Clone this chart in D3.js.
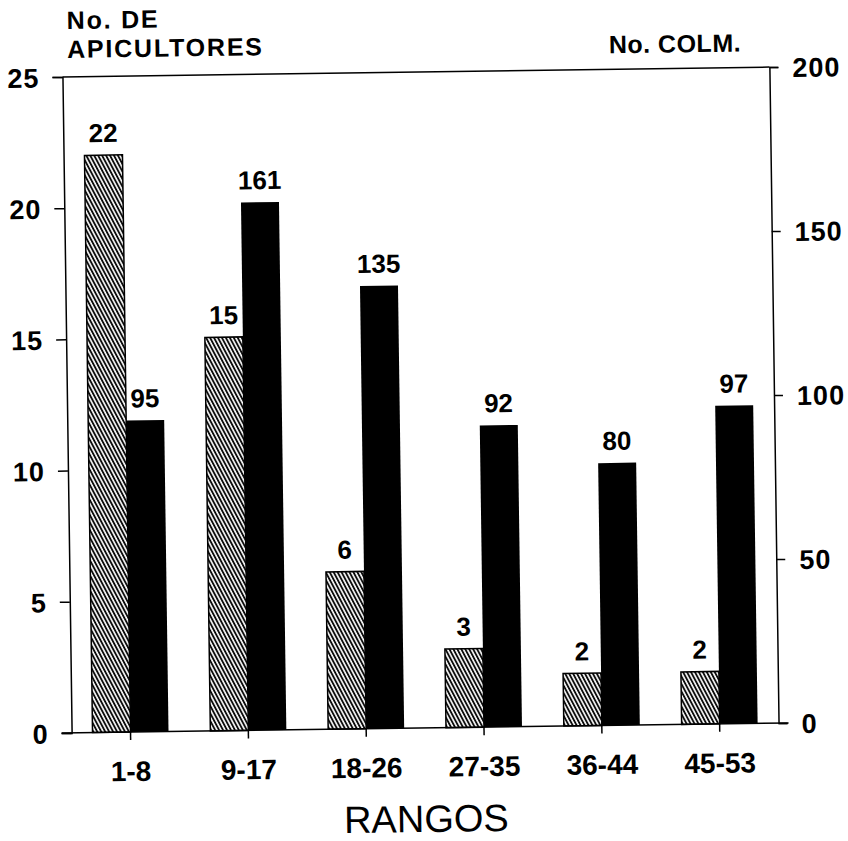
<!DOCTYPE html>
<html><head><meta charset="utf-8">
<script src="https://cdn.jsdelivr.net/npm/d3@7"></script>
<style>
html,body{margin:0;padding:0;background:#fff;}
svg{display:block;}
text{font-family:"Liberation Sans",Arial,Helvetica,sans-serif;fill:#000;}
</style></head>
<body>
<script>
const categories = ["1-8","9-17","18-26","27-35","36-44","45-53"];
const apicultores = [22,15,6,3,2,2];
const colmenas = [95,161,135,92,80,97];
const leftTicks = [0,5,10,15,20,25];
const rightTicks = [0,50,100,150,200];

const W = 848, H = 841;
const m = {left:67, right:74, top:72, bottom:113};
const x0 = m.left, x1 = W - m.right, y0 = H - m.bottom, y1 = m.top;

const svg = d3.select("body").append("svg").attr("width",W).attr("height",H);
const defs = svg.append("defs");
const pat = defs.append("pattern").attr("id","hatch").attr("patternUnits","userSpaceOnUse")
  .attr("width",3.5).attr("height",10).attr("patternTransform","rotate(-27)");
pat.append("rect").attr("width",3.5).attr("height",10).attr("fill","#fff");
pat.append("line").attr("x1",1).attr("x2",1).attr("y1",0).attr("y2",10)
  .attr("stroke","#000").attr("stroke-width",1.8);

const g = svg.append("g").attr("transform",`rotate(-0.8 ${(x0+x1)/2} ${(y0+y1)/2})`);

const x = d3.scaleBand().domain(categories).range([x0,x1]).padding(0);
const yL = d3.scaleLinear().domain([0,25]).range([y0,y1]);
const yR = d3.scaleLinear().domain([0,200]).range([y0,y1]);
const bw = 38;

// frame top line
g.append("line").attr("x1",x0).attr("x2",x1).attr("y1",y1).attr("y2",y1).attr("stroke","#000").attr("stroke-width",1.5);

// bars
g.selectAll(".ha").data(categories).join("rect")
  .attr("x",d=>x(d)+x.bandwidth()/2-bw).attr("width",bw)
  .attr("y",(d,i)=>yL(apicultores[i])).attr("height",(d,i)=>y0-yL(apicultores[i]))
  .attr("fill","url(#hatch)").attr("stroke","#000").attr("stroke-width",1.5);
g.selectAll(".co").data(categories).join("rect")
  .attr("x",d=>x(d)+x.bandwidth()/2).attr("width",bw)
  .attr("y",(d,i)=>yR(colmenas[i])).attr("height",(d,i)=>y0-yR(colmenas[i]))
  .attr("fill","#000");

// value labels
g.selectAll(".la").data(categories).join("text")
  .attr("x",d=>x(d)+x.bandwidth()/2-bw/2).attr("y",(d,i)=>yL(apicultores[i])-13)
  .attr("text-anchor","middle").attr("font-size",26).attr("font-weight","bold")
  .text((d,i)=>apicultores[i]);
g.selectAll(".lc").data(categories).join("text")
  .attr("x",d=>x(d)+x.bandwidth()/2+bw/2).attr("y",(d,i)=>yR(colmenas[i])-13)
  .attr("text-anchor","middle").attr("font-size",26).attr("font-weight","bold")
  .text((d,i)=>colmenas[i]);

// axes
const axL = g.append("g").attr("transform",`translate(${x0},0)`)
  .call(d3.axisLeft(yL).tickValues(leftTicks).tickSize(10).tickPadding(13).tickFormat(d3.format("d")));
const axR = g.append("g").attr("transform",`translate(${x1},0)`)
  .call(d3.axisRight(yR).tickValues(rightTicks).tickSize(9).tickPadding(14).tickFormat(d3.format("d")));
const axB = g.append("g").attr("transform",`translate(0,${y0})`)
  .call(d3.axisBottom(x).tickSize(8).tickPadding(21));
[axL,axR,axB].forEach(a=>{
  a.select(".domain").attr("stroke","#000").attr("stroke-width",1.5);
  a.selectAll(".tick line").attr("stroke","#000").attr("stroke-width",1.5);
  a.selectAll(".tick text").attr("font-family","Liberation Sans, Arial, sans-serif")
    .attr("font-size",27).attr("font-weight","bold").attr("fill","#000");
});
axL.selectAll(".tick text").attr("dy","0.36em").attr("letter-spacing",1);
axR.selectAll(".tick text").attr("dy","0.36em").attr("letter-spacing",1);
axB.selectAll(".tick text").attr("font-size",28).attr("dy","0.71em");
axB.select(".domain").attr("d",`M${x0-10},0H${x1+10}`);

// titles
g.append("text").attr("x",72).attr("y",24).attr("font-size",25).attr("font-weight","bold").attr("letter-spacing",1.8).text("No. DE");
g.append("text").attr("x",72).attr("y",53).attr("font-size",25).attr("font-weight","bold").attr("letter-spacing",1.8).text("APICULTORES");
g.append("text").attr("x",746).attr("y",56).attr("text-anchor","end").attr("font-size",25).attr("font-weight","bold").attr("letter-spacing",0.5).text("No. COLM.");
g.append("text").attr("x",(x0+x1)/2).attr("y",832).attr("text-anchor","middle").attr("font-size",38).text("RANGOS");
</script>
</body></html>
